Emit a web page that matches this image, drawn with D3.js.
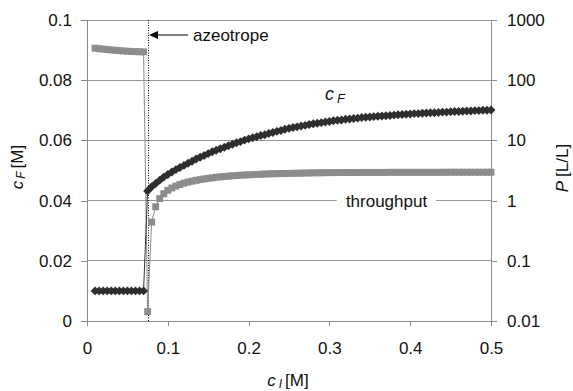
<!DOCTYPE html>
<html><head><meta charset="utf-8">
<script src="https://cdn.jsdelivr.net/npm/d3@7"></script>
<style>
html,body{margin:0;padding:0;background:#fff;}
svg{display:block;font-family:"Liberation Sans",Arial,sans-serif;}
</style></head>
<body><svg id="c" width="573" height="391"></svg>
<script>
// ---- data ----
const xFlat = [0.01,0.015,0.02,0.025,0.03,0.035,0.04,0.045,0.05,0.055,0.06,0.065,0.07];
const cFFlat = [0.01,0.01,0.01,0.01,0.01,0.01,0.01,0.01,0.01,0.01,0.01,0.01,0.01];
const pFlat = [340,334,328,323,318,314,310,306,303,300,298,297,296];
const xCurve = [0.075,0.08,0.085,0.09,0.095,0.1,0.105,0.11,0.115,0.12,0.125,0.13,0.135,0.14,0.145,0.15,0.155,0.16,0.165,0.17,0.175,0.18,0.185,0.19,0.195,0.2,0.205,0.21,0.215,0.22,0.225,0.23,0.235,0.24,0.245,0.25,0.255,0.26,0.265,0.27,0.275,0.28,0.285,0.29,0.295,0.3,0.305,0.31,0.315,0.32,0.325,0.33,0.335,0.34,0.345,0.35,0.355,0.36,0.365,0.37,0.375,0.38,0.385,0.39,0.395,0.4,0.405,0.41,0.415,0.42,0.425,0.43,0.435,0.44,0.445,0.45,0.455,0.46,0.465,0.47,0.475,0.48,0.485,0.49,0.495,0.5];
const cFCurve = [0.0432,0.0446,0.0457,0.0468,0.0478,0.0487,0.0495,0.0503,0.0510,0.0517,0.0524,0.0531,0.0538,0.0544,0.0550,0.0556,0.0562,0.0567,0.0572,0.0577,0.0582,0.0587,0.0592,0.0596,0.0601,0.0605,0.0609,0.0612,0.0616,0.0619,0.0623,0.0626,0.0630,0.0633,0.0637,0.0640,0.0643,0.0645,0.0648,0.0650,0.0653,0.0655,0.0657,0.0659,0.0661,0.0663,0.0665,0.0667,0.0668,0.0670,0.0671,0.0673,0.0674,0.0676,0.0677,0.0678,0.0679,0.0680,0.0681,0.0682,0.0683,0.0684,0.0685,0.0686,0.0687,0.0688,0.0689,0.0689,0.0690,0.0691,0.0692,0.0692,0.0693,0.0694,0.0694,0.0695,0.0696,0.0696,0.0697,0.0698,0.0698,0.0699,0.0699,0.0700,0.0700,0.0701];
const pCurve = [0.0143,0.44,0.79,1.08,1.30,1.48,1.62,1.74,1.85,1.95,2.03,2.10,2.17,2.23,2.29,2.34,2.39,2.44,2.48,2.52,2.55,2.58,2.61,2.64,2.66,2.68,2.70,2.72,2.74,2.76,2.78,2.79,2.80,2.81,2.82,2.83,2.84,2.85,2.86,2.87,2.88,2.89,2.90,2.90,2.91,2.92,2.92,2.92,2.93,2.93,2.93,2.93,2.93,2.94,2.94,2.94,2.94,2.94,2.94,2.94,2.95,2.95,2.95,2.95,2.95,2.95,2.95,2.95,2.95,2.95,2.95,2.95,2.95,2.96,2.96,2.96,2.96,2.96,2.96,2.96,2.96,2.96,2.96,2.96,2.96,2.96];
const azeotropeX = 0.0755;
const xTicks = [0,0.1,0.2,0.3,0.4,0.5];
const xTickLabels = ["0","0.1","0.2","0.3","0.4","0.5"];
const yLTicks = [0,0.02,0.04,0.06,0.08,0.1];
const yLTickLabels = ["0","0.02","0.04","0.06","0.08","0.1"];
const yRTicks = [0.01,0.1,1,10,100,1000];
const yRTickLabels = ["0.01","0.1","1","10","100","1000"];

// ---- build ----
const xAll = xFlat.concat(xCurve);
const cFAll = cFFlat.concat(cFCurve);
const pAll = pFlat.concat(pCurve);
const cFData = xAll.map((x,i)=>({x, y:cFAll[i]}));
const pData = xAll.map((x,i)=>({x, y:pAll[i]}));

const svg = d3.select("#c");
const L=87, R=491, T=20, B=321;
const x = d3.scaleLinear().domain([0,0.5]).range([L,R]);
const yL = d3.scaleLinear().domain([0,0.1]).range([B,T]);
const yR = d3.scaleLog().domain([0.01,1000]).range([B,T]);
const gridC="#979797", axC="#8a8a8a", fs=17;

// gridlines
svg.append("g").selectAll("line").data(yLTicks).join("line")
  .attr("x1",L).attr("x2",R).attr("y1",d=>yL(d)).attr("y2",d=>yL(d))
  .attr("stroke",gridC).attr("stroke-width",1).attr("shape-rendering","crispEdges");

// axes
function styleAxis(g){
  g.select(".domain").remove();
  g.selectAll(".tick line").attr("stroke",axC).attr("shape-rendering","crispEdges");
  g.selectAll(".tick text").attr("fill","#111").attr("font-size",fs)
    .attr("font-family","'Liberation Sans',Arial,sans-serif");
}
const ax = svg.append("g").attr("transform",`translate(0,${B})`)
  .call(d3.axisBottom(x).tickValues(xTicks).tickSize(5).tickSizeOuter(0).tickPadding(16)
  .tickFormat((d,i)=>xTickLabels[i]));
styleAxis(ax);
const al = svg.append("g").attr("transform",`translate(${L},0)`)
  .call(d3.axisLeft(yL).tickValues(yLTicks).tickSize(6).tickSizeOuter(0).tickPadding(9)
  .tickFormat((d,i)=>yLTickLabels[i]));
styleAxis(al);
const ar = svg.append("g").attr("transform",`translate(${R},0)`)
  .call(d3.axisRight(yR).tickValues(yRTicks).tickSize(6).tickSizeOuter(0).tickPadding(10)
  .tickFormat((d,i)=>yRTickLabels[i]));
styleAxis(ar);
svg.append("line").attr("x1",L).attr("x2",L).attr("y1",T).attr("y2",B+1).attr("stroke",axC).attr("shape-rendering","crispEdges");
svg.append("line").attr("x1",R).attr("x2",R).attr("y1",T).attr("y2",B+1).attr("stroke",axC).attr("shape-rendering","crispEdges");
svg.append("line").attr("x1",L).attr("x2",R).attr("y1",B).attr("y2",B).attr("stroke",axC).attr("shape-rendering","crispEdges");

// throughput label with white background (interrupts gridline)
const tpY = yR(1);
svg.append("rect").attr("x",x(0.309)).attr("y",tpY-4).attr("width",x(0.432)-x(0.309)).attr("height",8).attr("fill","#fff");
svg.append("text").attr("x",x(0.3707)).attr("y",tpY).attr("dy","0.35em").attr("text-anchor","middle")
  .attr("font-size",fs).attr("fill","#111").text("throughput");

// azeotrope dotted line
svg.append("line").attr("x1",Math.round(x(azeotropeX))+0.5).attr("x2",Math.round(x(azeotropeX))+0.5).attr("y1",T).attr("y2",B)
  .attr("stroke","#000").attr("stroke-width",1).attr("stroke-dasharray","1,1.5");

// throughput series (gray squares)
const lineP = d3.line().x(d=>x(d.x)).y(d=>yR(d.y));
svg.append("path").attr("d",lineP(pData)).attr("fill","none").attr("stroke","#8c8c8c").attr("stroke-width",1);
svg.append("g").selectAll("path").data(pData).join("path")
  .attr("transform",d=>`translate(${x(d.x)},${yR(d.y)})`)
  .attr("d",d3.symbol(d3.symbolSquare,48)).attr("fill","#8c8c8c");

// cF series (dark diamonds)
const lineC = d3.line().x(d=>x(d.x)).y(d=>yL(d.y));
svg.append("path").attr("d",lineC(cFData)).attr("fill","none").attr("stroke","#333").attr("stroke-width",1);
svg.append("g").selectAll("path").data(cFData).join("path")
  .attr("transform",d=>`translate(${x(d.x)},${yL(d.y)}) rotate(45)`)
  .attr("d",d3.symbol(d3.symbolSquare,40)).attr("fill","#2e2e2e");

// arrow + azeotrope text
const ay = 35;
svg.append("line").attr("x1",x(azeotropeX)+8).attr("x2",188).attr("y1",ay).attr("y2",ay).attr("stroke","#000").attr("stroke-width",1);
svg.append("path").attr("d",`M${x(azeotropeX)+1},${ay} l9,-4 l0,8 z`).attr("fill","#000");
svg.append("text").attr("x",193).attr("y",ay).attr("dy","0.35em").attr("font-size",fs).attr("fill","#111").text("azeotrope");

// cF label
const cl = svg.append("text").attr("x",325).attr("y",100).attr("font-size",18).attr("fill","#111");
cl.append("tspan").attr("font-style","italic").text("c");
cl.append("tspan").attr("font-style","italic").attr("font-size",13).attr("dx",3).attr("dy",3).text("F");

// axis titles
const xt = svg.append("text").attr("x",288).attr("y",386).attr("text-anchor","middle").attr("font-size",fs).attr("fill","#111");
xt.append("tspan").attr("font-style","italic").text("c");
xt.append("tspan").attr("font-style","italic").attr("font-size",12).attr("dx",3).attr("dy",2).text("I");
xt.append("tspan").attr("dy",-2).attr("dx",3).text("[M]");

const yt = svg.append("text").attr("transform","translate(23,167) rotate(-90)").attr("text-anchor","middle").attr("font-size",fs).attr("fill","#111");
yt.append("tspan").attr("font-style","italic").text("c");
yt.append("tspan").attr("font-style","italic").attr("font-size",12).attr("dx",2).attr("dy",2).text("F");
yt.append("tspan").attr("dy",-2).attr("dx",3).text("[M]");

const rt = svg.append("text").attr("transform","translate(568,168) rotate(-90)").attr("text-anchor","middle").attr("font-size",fs).attr("fill","#111");
rt.append("tspan").attr("font-style","italic").text("P");
rt.append("tspan").attr("dx",4).text("[L/L]");
</script></body></html>
